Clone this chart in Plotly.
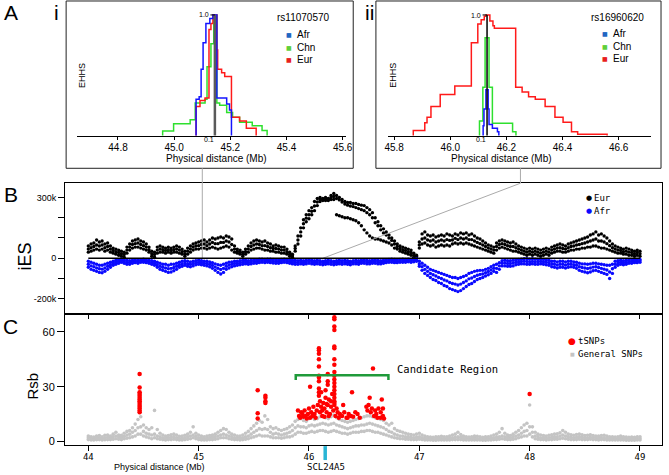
import plotly.graph_objects as go

W, H = 669, 475
SANS = "Liberation Sans, Arial, sans-serif"
MONO = "DejaVu Sans Mono, monospace"


def fx(p):
    return p / W


def fy(p):
    return 1 - p / H


# ---------------- Panel A i (rs11070570) : EHHS step curves ----------------
CORE_I = 45.145
AI_AFR_X = [45.078, 45.078, 45.089, 45.096, 45.103, 45.113, 45.127, 45.138, 45.145, 45.152, 45.187, 45.197, 45.204, 45.204]
AI_AFR_Y = [0, 0.30, 0.32, 0.55, 0.77, 0.93, 0.97, 1.0, 1.0, 0.31, 0.26, 0.21, 0.21, 0]
AI_CHN_X = [44.959, 44.959, 44.998, 45.057, 45.075, 45.110, 45.117, 45.131, 45.141, 45.145, 45.152, 45.162, 45.187, 45.208, 45.233, 45.278, 45.313, 45.331, 45.331]
AI_CHN_Y = [0, 0.036, 0.097, 0.13, 0.27, 0.30, 0.57, 0.76, 1.0, 1.0, 0.27, 0.25, 0.19, 0.15, 0.11, 0.08, 0.04, 0.04, 0]
AI_EUR_X = [45.078, 45.078, 45.092, 45.110, 45.124, 45.131, 45.138, 45.145, 45.152, 45.155, 45.169, 45.180, 45.204, 45.233, 45.257, 45.292, 45.292]
AI_EUR_Y = [0, 0.24, 0.29, 0.31, 0.88, 0.93, 1.0, 1.0, 0.71, 0.55, 0.52, 0.49, 0.15, 0.12, 0.06, 0.03, 0]
AI_TICKS = [44.8, 45.0, 45.2, 45.4, 45.6]

# ---------------- Panel A ii (rs16960620) ----------------
CORE_II = 46.131
AII_AFR_X = [46.117, 46.117, 46.120, 46.127, 46.131, 46.135, 46.138, 46.150, 46.168, 46.173, 46.173]
AII_AFR_Y = [0, 0.08, 0.22, 0.38, 0.38, 0.22, 0.09, 0.06, 0.03, 0.03, 0]
AII_CHN_X = [46.104, 46.104, 46.116, 46.124, 46.131, 46.138, 46.150, 46.222, 46.234, 46.234]
AII_CHN_Y = [0, 0.12, 0.40, 0.81, 0.81, 0.40, 0.10, 0.03, 0.03, 0]
AII_EUR_X = [45.868, 45.868, 45.909, 45.917, 45.931, 45.964, 46.016, 46.075, 46.098, 46.110, 46.121, 46.127, 46.138,
             46.141, 46.152, 46.157, 46.233, 46.256, 46.279, 46.303, 46.338, 46.373, 46.402, 46.432, 46.454, 46.559, 46.559]
AII_EUR_Y = [0, 0.04, 0.105, 0.15, 0.24, 0.34, 0.41, 0.77, 0.925, 0.96, 0.99, 1.0, 1.0,
             0.95, 0.91, 0.89, 0.40, 0.36, 0.32, 0.30, 0.24, 0.15, 0.11, 0.03, 0.01, 0.01, 0]
AII_TICKS = [45.8, 46.0, 46.2, 46.4, 46.6]

# ---------------- Panels B and C : positions along chromosome (Mb) ----------------
POS = [
    44.000, 44.025, 44.050, 44.075, 44.100, 44.125, 44.150, 44.175,
    44.200, 44.225, 44.250, 44.275, 44.300, 44.325, 44.350, 44.375,
    44.400, 44.425, 44.450, 44.475, 44.500, 44.525, 44.550, 44.575,
    44.600, 44.625, 44.650, 44.675, 44.700, 44.725, 44.750, 44.775,
    44.800, 44.825, 44.850, 44.875, 44.900, 44.925, 44.950, 44.975,
    45.000, 45.025, 45.050, 45.075, 45.100, 45.125, 45.150, 45.175,
    45.200, 45.225, 45.250, 45.275, 45.300, 45.325, 45.350, 45.375,
    45.400, 45.425, 45.450, 45.475, 45.500, 45.525, 45.550, 45.575,
    45.600, 45.625, 45.650, 45.675, 45.700, 45.725, 45.750, 45.775,
    45.800, 45.825, 45.850, 45.875, 45.900, 45.925, 45.950, 45.975,
    46.000, 46.025, 46.050, 46.075, 46.100, 46.125, 46.150, 46.175,
    46.200, 46.225, 46.250, 46.275, 46.300, 46.325, 46.350, 46.375,
    46.400, 46.425, 46.450, 46.475, 46.500, 46.525, 46.550, 46.575,
    46.600, 46.625, 46.650, 46.675, 46.700, 46.725, 46.750, 46.775,
    46.800, 46.825, 46.850, 46.875, 46.900, 46.925, 46.950, 46.975,
    47.000, 47.025, 47.050, 47.075, 47.100, 47.125, 47.150, 47.175,
    47.200, 47.225, 47.250, 47.275, 47.300, 47.325, 47.350, 47.375,
    47.400, 47.425, 47.450, 47.475, 47.500, 47.525, 47.550, 47.575,
    47.600, 47.625, 47.650, 47.675, 47.700, 47.725, 47.750, 47.775,
    47.800, 47.825, 47.850, 47.875, 47.900, 47.925, 47.950, 47.975,
    48.000, 48.025, 48.050, 48.075, 48.100, 48.125, 48.150, 48.175,
    48.200, 48.225, 48.250, 48.275, 48.300, 48.325, 48.350, 48.375,
    48.400, 48.425, 48.450, 48.475, 48.500, 48.525, 48.550, 48.575,
    48.600, 48.625, 48.650, 48.675, 48.700, 48.725, 48.750, 48.775,
    48.800, 48.825, 48.850, 48.875, 48.900, 48.925, 48.950, 48.975,
    49.000]

# iES (thousands) - Eur: upper edge, body and lower edge of the point cloud
EUR_UPPER = [
    60, 70, 75, 90, 80, 85, 70, 75,
    60, 50, 45, 40, 35, 30, 55, 70,
    85, 90, 95, 85, 80, 70, 55, 35,
    30, 55, 60, 55, 50, 55, 50, 55,
    60, 55, 45, 35, 50, 60, 70, 75,
    80, 85, 90, 80, 90, 100, 95, 100,
    105, 100, 110, 105, 95, 60, 45, 40,
    30, 45, 60, 75, 85, 90, 85, 80,
    85, 75, 70, 60, 65, 60, 55, 55,
    45, 30, 20, 60, 110, 150, 190, 215,
    235, 250, 280, 295, 300, 295, 300, 295,
    310, 320, 310, 300, 290, 280, 275, 275,
    270, 270, 265, 262, 260, 250, 240, 225,
    200, 180, 160, 145, 130, 115, 100, 85,
    70, 60, 55, 50, 45, 40, 25, 15,
    80, 120, 130, 115, 110, 115, 105, 110,
    115, 110, 120, 115, 110, 120, 115, 125,
    120, 125, 115, 120, 110, 100, 95, 85,
    75, 65, 60, 55, 75, 85, 90, 85,
    80, 75, 80, 70, 60, 55, 50, 45,
    50, 45, 50, 45, 40, 45, 50, 45,
    55, 60, 65, 70, 65, 60, 70, 75,
    80, 85, 90, 95, 100, 105, 115, 120,
    130, 115, 120, 110, 100, 85, 70, 60,
    55, 50, 45, 50, 45, 40, 35, 40,
    35]
EUR_BODY = [
    45, 52, 58, 65, 60, 65, 52, 58,
    45, 38, 32, 28, 22, 18, 40, 55,
    68, 72, 75, 68, 62, 55, 42, 22,
    18, 40, 45, 42, 38, 42, 38, 42,
    45, 40, 32, 22, 35, 45, 55, 60,
    62, 68, 70, 62, 70, 78, 72, 72,
    78, 78, 85, 80, 68, 45, 35, 30,
    20, 32, 45, 58, 65, 70, 68, 62,
    62, 58, 52, 48, 48, 45, 40, 40,
    32, 20, 12, 48, 90, 130, 170, 198,
    215, 232, 258, 278, 290, 290, 292, 290,
    300, 305, 295, 288, 278, 268, 262, 258,
    255, 250, 245, 240, 235, 225, 215, 200,
    175, 160, 140, 125, 115, 100, 88, 70,
    58, 48, 42, 38, 32, 28, 15, 8,
    65, 95, 100, 90, 85, 90, 80, 85,
    90, 85, 92, 88, 90, 98, 92, 100,
    95, 100, 92, 92, 85, 78, 72, 65,
    58, 50, 45, 40, 58, 68, 72, 68,
    62, 58, 58, 52, 45, 40, 35, 30,
    35, 30, 35, 30, 25, 30, 35, 30,
    40, 45, 50, 52, 48, 45, 52, 58,
    60, 65, 68, 72, 75, 80, 85, 90,
    95, 85, 85, 80, 72, 62, 52, 45,
    40, 38, 32, 35, 30, 28, 22, 28,
    22]
EUR_LOWER = [
    30, 35, 40, 45, 40, 45, 35, 40,
    30, 25, 20, 15, 10, 5, 25, 40,
    50, 55, 55, 50, 45, 40, 30, 10,
    5, 25, 30, 30, 25, 30, 25, 30,
    30, 25, 20, 10, 20, 30, 40, 45,
    45, 50, 50, 45, 50, 55, 50, 45,
    50, 55, 60, 55, 40, 30, 25, 20,
    10, 20, 30, 40, 45, 50, 50, 45,
    40, 40, 35, 35, 30, 30, 25, 25,
    20, 10, 5, 35, 70, 110, 150, 180,
    195, 215, 235, 260, 280, 285, 285, 285,
    290, 290, 215, 210, 205, 200, 200, 195,
    190, 185, 175, 160, 140, 125, 110, 100,
    95, 95, 90, 85, 80, 75, 65, 50,
    45, 35, 30, 25, 20, 15, 5, 0,
    50, 70, 75, 65, 60, 65, 55, 60,
    65, 60, 65, 60, 70, 75, 70, 75,
    70, 75, 70, 65, 60, 55, 50, 45,
    40, 35, 30, 25, 40, 50, 55, 50,
    45, 40, 35, 35, 30, 25, 20, 15,
    20, 15, 20, 15, 10, 15, 20, 15,
    25, 30, 35, 35, 30, 30, 35, 40,
    40, 45, 45, 50, 50, 55, 55, 60,
    60, 55, 50, 50, 45, 40, 35, 30,
    25, 25, 20, 20, 15, 15, 10, 15,
    10]
# iES (thousands) - Afr: edge nearest zero, body and far edge of the cloud
AFR_NEAR = [
    -15, -20, -25, -30, -35, -35, -30, -25,
    -20, -15, -10, -8, -5, -8, -10, -12,
    -10, -8, -10, -8, -5, -8, -10, -12,
    -15, -20, -25, -30, -30, -35, -30, -30,
    -25, -20, -15, -12, -15, -18, -15, -12,
    -10, -12, -15, -15, -18, -22, -28, -32,
    -35, -30, -25, -20, -18, -15, -15, -12,
    -10, -10, -12, -10, -8, -8, -5, -5,
    -6, -5, -5, -6, -8, -8, -6, -5,
    -6, -8, -10, -10, -12, -10, -12, -10,
    -8, -10, -12, -10, -12, -15, -12, -10,
    -12, -15, -12, -10, -12, -10, -12, -15,
    -12, -10, -12, -10, -8, -10, -12, -10,
    -8, -10, -12, -10, -8, -6, -5, -6,
    -8, -6, -5, -6, -5, -6, -5, -3,
    -15, -25, -35, -45, -55, -60, -65, -70,
    -75, -80, -85, -90, -95, -95, -100, -95,
    -90, -85, -75, -70, -65, -62, -60, -60,
    -55, -50, -42, -35, -30, -22, -12, -10,
    -12, -12, -10, -8, -6, -5, -3, -3,
    -5, -3, -5, -6, -5, -6, -8, -10,
    -15, -15, -18, -15, -15, -18, -15, -15,
    -18, -20, -25, -28, -28, -30, -28, -25,
    -25, -28, -30, -32, -35, -35, -30, -15,
    -12, -10, -12, -10, -8, -8, -6, -8,
    -6]
AFR_BODY = [
    -30, -38, -42, -48, -52, -54, -48, -40,
    -32, -25, -20, -16, -12, -16, -20, -21,
    -18, -15, -18, -14, -12, -15, -18, -21,
    -25, -32, -40, -45, -48, -52, -50, -46,
    -40, -32, -28, -24, -28, -30, -26, -22,
    -20, -22, -25, -26, -30, -36, -44, -50,
    -56, -50, -40, -34, -30, -26, -25, -22,
    -20, -19, -21, -19, -16, -16, -14, -12,
    -14, -12, -13, -15, -16, -16, -14, -12,
    -14, -16, -19, -20, -21, -19, -21, -19,
    -16, -19, -21, -19, -21, -23, -21, -19,
    -21, -23, -21, -19, -21, -19, -21, -23,
    -20, -19, -21, -18, -16, -19, -20, -18,
    -16, -19, -20, -18, -15, -13, -12, -14,
    -15, -13, -12, -13, -12, -13, -11, -9,
    -28, -42, -55, -65, -75, -82, -88, -95,
    -100, -108, -112, -120, -125, -128, -132, -128,
    -120, -112, -102, -98, -90, -84, -80, -78,
    -72, -66, -58, -50, -50, -38, -25, -24,
    -26, -26, -24, -20, -18, -16, -15, -16,
    -18, -16, -18, -18, -16, -18, -20, -22,
    -28, -30, -33, -30, -30, -33, -30, -28,
    -32, -35, -42, -46, -48, -51, -48, -44,
    -42, -46, -50, -54, -58, -68, -52, -30,
    -24, -20, -22, -20, -16, -16, -14, -15,
    -13]
AFR_FAR = [
    -45, -55, -60, -65, -70, -72, -65, -55,
    -45, -35, -30, -25, -20, -25, -30, -30,
    -25, -22, -25, -20, -20, -22, -25, -30,
    -35, -45, -55, -60, -65, -70, -68, -62,
    -55, -45, -40, -35, -40, -42, -38, -32,
    -30, -32, -35, -38, -42, -50, -60, -70,
    -78, -70, -55, -48, -42, -38, -35, -32,
    -30, -28, -30, -28, -25, -25, -22, -20,
    -22, -20, -22, -24, -25, -25, -22, -20,
    -22, -25, -28, -30, -30, -28, -30, -28,
    -25, -28, -30, -28, -30, -32, -30, -28,
    -30, -32, -30, -28, -30, -28, -30, -32,
    -28, -28, -30, -25, -25, -28, -28, -25,
    -25, -28, -28, -25, -22, -20, -20, -22,
    -22, -20, -20, -20, -18, -20, -18, -15,
    -40, -60, -75, -85, -95, -105, -110, -120,
    -125, -135, -140, -150, -155, -160, -165, -160,
    -150, -140, -130, -125, -115, -105, -100, -95,
    -88, -82, -75, -65, -70, -55, -38, -38,
    -40, -40, -38, -32, -30, -28, -28, -30,
    -30, -28, -30, -30, -28, -30, -32, -35,
    -42, -45, -48, -45, -45, -48, -45, -42,
    -45, -50, -60, -65, -68, -72, -68, -62,
    -60, -65, -70, -75, -80, -100, -75, -45,
    -35, -30, -32, -30, -25, -25, -22, -22,
    -20]
IES_TICKVALS = [-200, -100, 0, 100, 200, 300]
IES_TICKTEXT = ["-200k", "", "0", "", "", "300k"]

# Rsb - general SNPs (low, middle and top of the grey cloud)
GEN_LOW = [
    1.0, 0.8, 0.8, 0.9, 1.0, 0.8, 0.9, 1.0,
    1.0, 1.2, 1.5, 1.2, 1.0, 1.5, 1.8, 2.0,
    2.5, 3.0, 4.0, 4.0, 3.0, 2.5, 2.0, 1.5,
    2.0, 1.5, 1.2, 1.0, 0.8, 1.0, 1.0, 1.2,
    1.0, 0.8, 0.8, 1.0, 1.2, 1.5, 2.0, 1.5,
    1.0, 0.8, 0.8, 0.8, 1.0, 1.0, 1.2, 1.5,
    2.0, 2.0, 2.0, 1.5, 1.2, 1.0, 1.0, 0.8,
    1.0, 1.2, 1.5, 2.0, 2.5, 3.0, 3.5, 3.0,
    3.0, 3.0, 2.5, 2.0, 2.0, 2.0, 1.8, 2.0,
    2.5, 2.5, 3.0, 4.0, 5.0, 5.0, 4.5, 4.5,
    5.0, 5.5, 5.0, 5.5, 6.0, 6.0, 5.5, 5.0,
    5.5, 6.0, 5.5, 5.0, 4.5, 4.5, 4.0, 4.5,
    5.0, 5.0, 5.0, 5.5, 5.5, 6.0, 6.0, 5.5,
    5.0, 5.0, 4.5, 4.0, 3.5, 3.0, 2.5, 2.0,
    1.8, 1.5, 1.5, 1.2, 1.2, 1.0, 1.0, 1.0,
    1.2, 1.0, 0.8, 0.8, 0.8, 0.7, 0.7, 0.8,
    0.8, 0.8, 0.8, 0.8, 1.0, 1.0, 1.0, 1.0,
    0.8, 0.8, 0.8, 0.8, 0.8, 0.8, 0.8, 0.7,
    0.7, 0.8, 0.8, 1.0, 1.0, 1.2, 1.5, 1.2,
    1.0, 1.0, 1.2, 1.5, 2.0, 2.5, 3.0, 3.0,
    4.0, 2.5, 1.5, 1.2, 1.0, 1.0, 0.8, 1.0,
    1.0, 1.2, 1.2, 1.5, 1.8, 1.5, 1.2, 1.0,
    1.0, 1.0, 1.2, 1.0, 1.0, 1.0, 1.2, 1.0,
    1.0, 0.8, 1.0, 1.0, 0.8, 0.8, 0.8, 0.8,
    0.8, 0.8, 0.8, 0.7, 0.7, 0.7, 0.7, 0.8,
    0.8]
GEN_MID = [
    2.0, 1.5, 1.6, 1.8, 2.0, 1.8, 2.0, 2.2,
    2.0, 2.5, 3.0, 2.4, 2.2, 2.8, 3.5, 4.0,
    5.0, 6.0, 7.5, 8.0, 5.5, 4.5, 4.0, 3.5,
    4.0, 3.0, 2.5, 2.0, 1.8, 2.0, 2.2, 2.5,
    2.0, 1.6, 1.8, 2.0, 2.5, 3.0, 3.5, 2.8,
    2.0, 1.8, 1.6, 1.8, 2.0, 2.2, 2.5, 3.0,
    3.5, 4.0, 3.5, 3.0, 2.5, 2.0, 2.0, 1.8,
    2.0, 2.5, 3.0, 4.0, 5.0, 6.0, 7.0, 6.5,
    7.0, 6.5, 5.0, 4.0, 4.5, 4.0, 3.5, 4.0,
    4.5, 5.0, 6.0, 7.5, 8.5, 8.0, 8.0, 7.5,
    8.5, 9.0, 8.5, 9.0, 9.5, 10.0, 9.5, 9.0,
    9.5, 10.0, 9.0, 8.5, 8.0, 7.5, 7.0, 7.5,
    8.0, 8.5, 8.5, 9.0, 9.0, 9.5, 10.0, 9.5,
    9.0, 8.5, 8.0, 7.5, 6.5, 5.5, 5.0, 4.0,
    3.5, 3.0, 3.0, 2.5, 2.5, 2.2, 2.0, 2.2,
    2.5, 2.0, 1.8, 1.6, 1.5, 1.4, 1.5, 1.6,
    1.6, 1.5, 1.6, 1.8, 2.0, 2.2, 2.5, 2.2,
    1.8, 1.6, 1.5, 1.6, 1.8, 1.6, 1.5, 1.4,
    1.5, 1.6, 1.8, 2.0, 2.2, 2.5, 3.0, 2.5,
    2.2, 2.0, 2.5, 3.0, 3.5, 4.5, 5.5, 6.0,
    8.0, 5.0, 3.0, 2.5, 2.0, 2.0, 1.8, 2.0,
    2.2, 2.5, 2.5, 3.0, 3.5, 3.0, 2.5, 2.2,
    2.0, 2.2, 2.5, 2.2, 2.0, 2.0, 2.2, 2.0,
    2.0, 1.8, 2.0, 2.0, 1.8, 1.6, 1.6, 1.5,
    1.6, 1.8, 1.6, 1.5, 1.4, 1.5, 1.4, 1.5,
    1.6]
GEN_HIGH = [
    3.0, 2.5, 2.4, 3.0, 3.2, 2.6, 3.4, 3.5,
    3.0, 4.0, 5.0, 3.5, 3.4, 4.5, 5.5, 6.0,
    7.5, 9.5, 12.0, 13.5, 9.0, 7.5, 6.5, 7.5,
    17.0, 6.5, 4.5, 3.5, 3.0, 3.2, 3.6, 4.0,
    3.5, 2.8, 3.0, 3.4, 4.0, 5.0, 8.0, 4.5,
    3.5, 3.0, 2.6, 3.0, 3.2, 3.5, 4.0, 5.0,
    6.0, 7.0, 6.5, 5.0, 4.0, 3.5, 3.0, 3.0,
    3.5, 4.5, 5.5, 7.0, 8.5, 10.0, 11.5, 10.5,
    14.0, 12.0, 8.0, 7.0, 7.5, 6.5, 6.0, 6.5,
    7.0, 8.0, 9.0, 11.0, 12.0, 12.5, 11.5, 11.0,
    12.5, 13.0, 12.0, 12.5, 13.5, 14.0, 13.0, 12.5,
    13.5, 14.5, 13.0, 12.0, 11.5, 11.0, 10.5, 11.0,
    11.5, 12.0, 12.5, 13.0, 13.5, 14.0, 14.0, 13.5,
    13.0, 12.5, 12.0, 11.5, 10.0, 9.0, 10.0, 7.0,
    6.0, 5.5, 5.0, 4.5, 4.0, 3.8, 3.5, 4.0,
    4.5, 3.5, 3.0, 2.6, 2.4, 2.2, 2.5, 2.6,
    2.8, 2.5, 2.6, 3.0, 3.5, 4.0, 5.0, 3.8,
    3.0, 2.6, 2.4, 2.6, 3.0, 2.8, 2.5, 2.3,
    2.5, 2.6, 3.0, 3.5, 4.0, 5.0, 7.0, 4.5,
    3.5, 3.2, 4.0, 5.0, 6.0, 7.5, 9.0, 10.0,
    20.0, 8.0, 5.0, 4.0, 3.5, 3.2, 3.0, 3.4,
    3.6, 4.0, 4.2, 4.8, 6.0, 5.0, 4.0, 3.6,
    3.4, 3.8, 4.0, 3.6, 3.2, 3.4, 3.6, 3.2,
    3.0, 3.0, 3.2, 3.4, 3.0, 2.6, 2.5, 2.4,
    2.6, 3.0, 2.6, 2.4, 2.2, 2.4, 2.2, 2.5,
    2.6]

# Rsb - tSNPs (red)
TSNP_X = [44.465] * 14 + [45.535] * 3 + [45.605] * 4 + [
    45.90, 45.91, 45.92, 45.93, 45.94, 45.95, 45.96, 45.97, 45.98, 45.99,
    46.00, 46.01, 46.02, 46.03, 46.04, 46.05, 46.06, 46.07, 46.08, 46.01,
    46.09, 46.09, 46.09, 46.09, 46.09, 46.09, 46.09, 46.09, 46.09, 46.09, 46.09,
    46.17, 46.17, 46.17,
    46.23, 46.23, 46.23, 46.23, 46.23, 46.23, 46.23, 46.23, 46.23, 46.23,
    46.23, 46.23, 46.23, 46.23, 46.23, 46.23, 46.23, 46.23, 46.23,
    46.10, 46.11, 46.12, 46.13, 46.14, 46.15, 46.16, 46.17, 46.18, 46.19,
    46.20, 46.21, 46.22, 46.24, 46.25, 46.26, 46.27, 46.28, 46.10, 46.12,
    46.14, 46.16, 46.18, 46.20, 46.11, 46.15,
    46.30, 46.32, 46.34, 46.36, 46.38, 46.39, 46.40, 46.42, 46.44, 46.46, 46.31, 46.35,
    46.52, 46.53, 46.54, 46.55, 46.56, 46.57, 46.58, 46.59, 46.60, 46.61,
    46.62, 46.63, 46.65, 46.66, 46.67, 46.68, 46.67, 46.65,
    48.00]
TSNP_Y = [37, 29.5, 27, 26, 25, 24, 23, 22, 21, 20, 19, 18, 17, 16] + [28, 15.5, 12.5] + [25, 24, 22, 21] + [
    17, 14, 13, 16, 15, 13.5, 17, 14, 12.5, 15,
    18, 13, 16, 14, 19, 15, 13, 17, 20, 30,
    51, 50, 48, 45, 41, 36, 35, 33, 29, 27, 25,
    37, 33, 31,
    68, 67, 63, 61, 52, 51, 45, 42, 38, 36,
    34, 32, 30, 28, 26, 24, 22, 21, 20,
    22, 19, 17, 21, 18, 24, 16, 20, 23, 15,
    19, 26, 17, 14, 18, 16, 13, 15, 16, 14,
    13.5, 20.5, 14, 22, 27, 28,
    14, 16, 13, 15, 14, 27, 13.5, 16, 15, 13, 20, 13,
    19, 17, 20, 24, 16, 18, 40, 14, 17, 15,
    13, 18, 16, 23, 14, 12.5, 18, 13,
    26]
RSB_TICKS = [0, 30, 60]
MB_TICKS = [44, 45, 46, 47, 48, 49]

CANDIDATE_REGION = [45.88, 46.72]
CANDIDATE_Y = [33.6, 36.3]
GENE_POS = 46.147

C_AFR = "#1414ff"
C_CHN = "#2ee02e"
C_EUR = "#ff1a1a"

fig = go.Figure()

# ---- A i
for xs, ys, col in [(AI_CHN_X, AI_CHN_Y, C_CHN), (AI_EUR_X, AI_EUR_Y, C_EUR), (AI_AFR_X, AI_AFR_Y, C_AFR)]:
    fig.add_trace(go.Scatter(x=xs, y=ys, mode="lines", line=dict(color=col, width=1.5, shape="hv"),
                             xaxis="x", yaxis="y", showlegend=False, hoverinfo="skip"))
fig.add_trace(go.Scatter(x=[CORE_I, CORE_I], y=[0, 1], mode="lines", line=dict(color="#5a5a5a", width=2.5),
                         xaxis="x", yaxis="y", showlegend=False, hoverinfo="skip"))

# ---- A ii
for xs, ys, col in [(AII_EUR_X, AII_EUR_Y, C_EUR), (AII_CHN_X, AII_CHN_Y, C_CHN), (AII_AFR_X, AII_AFR_Y, C_AFR)]:
    fig.add_trace(go.Scatter(x=xs, y=ys, mode="lines", line=dict(color=col, width=1.5, shape="hv"),
                             xaxis="x2", yaxis="y2", showlegend=False, hoverinfo="skip"))
fig.add_trace(go.Scatter(x=[CORE_II, CORE_II], y=[0, 1], mode="lines", line=dict(color="#111111", width=1.6),
                         xaxis="x2", yaxis="y2", showlegend=False, hoverinfo="skip"))

# ---- B
fig.add_trace(go.Scatter(x=POS + POS + POS, y=EUR_UPPER + EUR_BODY + EUR_LOWER, mode="markers",
                         marker=dict(color="black", size=3.4, line=dict(width=0)),
                         xaxis="x3", yaxis="y3", showlegend=False, hoverinfo="skip"))
fig.add_trace(go.Scatter(x=POS + POS + POS, y=AFR_NEAR + AFR_BODY + AFR_FAR, mode="markers",
                         marker=dict(color="#0a0aff", size=3.4, line=dict(width=0)),
                         xaxis="x3", yaxis="y3", showlegend=False, hoverinfo="skip"))

# ---- C
fig.add_trace(go.Scatter(x=POS + POS + POS, y=GEN_LOW + GEN_MID + GEN_HIGH, mode="markers",
                         marker=dict(color="#c4c4c4", size=3.6, line=dict(width=0)),
                         xaxis="x4", yaxis="y4", showlegend=False, hoverinfo="skip"))
fig.add_trace(go.Scatter(x=TSNP_X, y=TSNP_Y, mode="markers",
                         marker=dict(color="#ff0000", size=4.5, line=dict(width=0)),
                         xaxis="x4", yaxis="y4", showlegend=False, hoverinfo="skip"))
fig.add_trace(go.Scatter(x=[CANDIDATE_REGION[0], CANDIDATE_REGION[0], CANDIDATE_REGION[1], CANDIDATE_REGION[1]],
                         y=[CANDIDATE_Y[0], CANDIDATE_Y[1], CANDIDATE_Y[1], CANDIDATE_Y[0]],
                         mode="lines", line=dict(color="#1f9a3a", width=2.5),
                         xaxis="x4", yaxis="y4", showlegend=False, hoverinfo="skip"))

axis_common = dict(showgrid=False, zeroline=False, color="black")

fig.update_layout(
    width=W, height=H, margin=dict(l=0, r=0, t=0, b=0),
    paper_bgcolor="white", plot_bgcolor="rgba(0,0,0,0)",
    font=dict(family=SANS, color="black", size=10),
    showlegend=False,
    xaxis=dict(domain=[fx(75), fx(348)], range=[44.654, 45.613], anchor="y",
               showline=True, linecolor="black", linewidth=1.3, ticks="outside", ticklen=3, tickcolor="black",
               tickvals=AI_TICKS, ticktext=["%.1f" % v for v in AI_TICKS], ticklabelstandoff=-1,
               tickfont=dict(family=SANS, size=10), **axis_common),
    yaxis=dict(domain=[fy(136.6), fy(13.8)], range=[-0.005, 1.01], visible=False, anchor="x", **axis_common),
    xaxis2=dict(domain=[fx(390), fx(657)], range=[45.777, 46.716], anchor="y2",
                showline=True, linecolor="black", linewidth=1.3, ticks="outside", ticklen=3, tickcolor="black",
                tickvals=AII_TICKS, ticktext=["%.1f" % v for v in AII_TICKS], ticklabelstandoff=-1,
                tickfont=dict(family=SANS, size=10), **axis_common),
    yaxis2=dict(domain=[fy(136.6), fy(13.8)], range=[-0.005, 1.01], visible=False, anchor="x2", **axis_common),
    xaxis3=dict(domain=[fx(63), fx(667.7)], range=[43.790, 49.197], anchor="y3",
                showline=True, mirror=True, linecolor="black", linewidth=1.2,
                ticks="outside", ticklen=4, tickcolor="black", tickvals=MB_TICKS, showticklabels=False,
                **axis_common),
    yaxis3=dict(domain=[fy(315), fy(184)], range=[-274, 370.4], anchor="x3",
                showline=True, mirror=True, linecolor="black", linewidth=1.2,
                ticks="outside", ticklen=6, tickcolor="black",
                tickvals=IES_TICKVALS, ticktext=IES_TICKTEXT, tickfont=dict(family=SANS, size=9),
                **axis_common),
    xaxis4=dict(domain=[fx(63), fx(667.7)], range=[43.790, 49.197], anchor="y4",
                showline=True, mirror=True, linecolor="black", linewidth=1.2,
                ticks="outside", ticklen=5, tickcolor="black", tickvals=MB_TICKS, ticklabelstandoff=-2,
                ticktext=[str(v) for v in MB_TICKS], tickfont=dict(family=MONO, size=9),
                **axis_common),
    yaxis4=dict(domain=[fy(446.7), fy(315)], range=[-1.85, 70], anchor="x4",
                showline=True, mirror=True, linecolor="black", linewidth=1.2,
                ticks="outside", ticklen=7, tickcolor="black",
                tickvals=RSB_TICKS, ticktext=[str(v) for v in RSB_TICKS], tickfont=dict(family=SANS, size=11),
                **axis_common),
)

shapes = [
    dict(type="rect", xref="paper", yref="paper", x0=fx(64), x1=fx(355), y0=fy(169), y1=fy(1),
         line=dict(color="#222222", width=1)),
    dict(type="rect", xref="paper", yref="paper", x0=fx(378), x1=fx(667), y0=fy(169), y1=fy(1),
         line=dict(color="#222222", width=1)),
    dict(type="line", xref="paper", yref="paper", x0=fx(202), x1=fx(202), y0=fy(169), y1=fy(259.3),
         line=dict(color="#aaaaaa", width=1)),
    dict(type="path", xref="paper", yref="paper",
         path="M %f,%f L %f,%f L %f,%f" % (fx(524.5), fy(169), fx(524.5), fy(184), fx(324.4), fy(259.3)),
         line=dict(color="#aaaaaa", width=1)),
    dict(type="line", xref="x3", yref="y3", x0=POS[0], x1=POS[-1], y0=0, y1=0,
         line=dict(color="black", width=1.5)),
    dict(type="line", xref="x4", yref="paper", x0=GENE_POS, x1=GENE_POS, y0=fy(462), y1=fy(448),
         line=dict(color="#29b5d5", width=3.5)),
    dict(type="line", xref="x", yref="y", x0=CORE_I - 0.016, x1=CORE_I, y0=1, y1=1,
         line=dict(color="black", width=1)),
    dict(type="line", xref="x2", yref="y2", x0=CORE_II - 0.016, x1=CORE_II, y0=1, y1=1,
         line=dict(color="black", width=1)),
]
fig.update_layout(shapes=shapes)

annotations = []


def ann(text, x, y, size, family=SANS, color="black", xanchor="center", yanchor="middle", angle=0):
    annotations.append(dict(text=text, x=fx(x), y=fy(y), xref="paper", yref="paper", showarrow=False,
                            font=dict(family=family, size=size, color=color), borderpad=0,
                            xanchor=xanchor, yanchor=yanchor, textangle=angle))


# panel letters
ann("A", 8.5, 13, 21)
ann("i", 54, 13, 21)
ann("ii", 371, 13, 21)
ann("B", 8.5, 195.5, 21)
ann("C", 7.5, 327.5, 21)

# A i texts
ann("rs11070570", 305, 18, 10)
for lab, col, yy in [("Afr", "#2166c2", 34.3), ("Chn", "#5fcf3a", 47.7), ("Eur", "#e8201c", 60)]:
    ann("■", 290, yy, 6, family="DejaVu Sans", color=col)
    ann(lab, 297.5, yy, 10, xanchor="left")
ann("EHHS", 80, 75.5, 9, angle=-90)
ann("Physical distance (Mb)", 216, 159, 10)
ann("1.0", 209.5, 15, 7, xanchor="right")
ann("0.1", 209, 140.5, 7)

# A ii texts
ann("rs16960620", 623, 18, 10)
for lab, col, yy in [("Afr", "#2166c2", 34), ("Chn", "#5fcf3a", 47), ("Eur", "#e8201c", 59)]:
    ann("■", 610, yy, 6, family="DejaVu Sans", color=col)
    ann(lab, 617, yy, 10, xanchor="left")
ann("EHHS", 396, 75.5, 9, angle=-90)
ann("Physical distance (Mb)", 505, 159, 10)
ann("1.0", 486, 16, 7, xanchor="right")
ann("0.1", 485, 140.5, 7)

# B texts
ann("iES", 22.5, 257.5, 18, angle=-90)
ann("●", 594, 199, 7, family="DejaVu Sans", color="black")
ann("Eur", 598, 199, 9, family=MONO, xanchor="left")
ann("●", 594, 211.7, 7, family="DejaVu Sans", color="#0a0aff")
ann("Afr", 598, 211.7, 9, family=MONO, xanchor="left")

# C texts
ann("Rsb", 30, 387.5, 15, angle=-90)
ann("●", 577, 342.7, 9, family="DejaVu Sans", color="#ff0000")
ann("tSNPs", 581.5, 342.7, 9, family=MONO, xanchor="left")
ann("■", 577, 355.7, 5, family="DejaVu Sans", color="#c4c4c4")
ann("General SNPs", 581.5, 355.7, 9, family=MONO, xanchor="left")
ann("Candidate Region", 398, 371, 10.5, family=MONO, xanchor="left")
ann("SCL24A5", 327.5, 475, 9, family=MONO, yanchor="bottom")
ann("Physical distance (Mb)", 159, 475, 9, yanchor="bottom")

fig.update_layout(annotations=annotations)

fig.write_html("out.html", config={"displayModeBar": False},
               post_script="document.body.style.margin='0';document.body.style.overflow='hidden';")
